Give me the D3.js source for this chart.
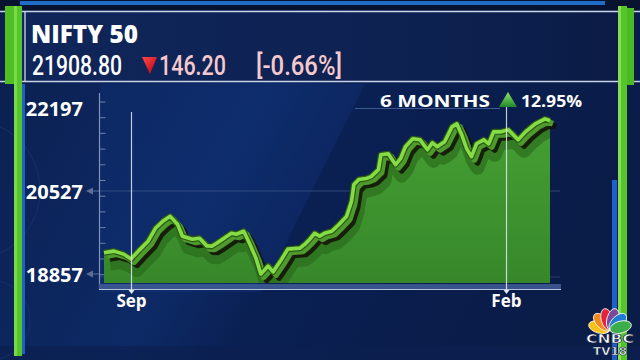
<!DOCTYPE html>
<html>
<head>
<meta charset="utf-8">
<script src="https://cdn.jsdelivr.net/npm/d3@7"></script>
<style>
  html, body { margin: 0; padding: 0; background: #0a1a42; }
  svg { display: block; }
</style>
</head>
<body>
<div id="chart"></div>
<script>
// NIFTY 50, six months of closes
const dates = ['2023-08-21','2023-08-25','2023-08-29','2023-09-01','2023-09-04','2023-09-08','2023-09-11','2023-09-14',
  '2023-09-17','2023-09-20','2023-09-22','2023-09-26','2023-09-29','2023-10-02','2023-10-04','2023-10-06','2023-10-09',
  '2023-10-12','2023-10-14','2023-10-17','2023-10-19','2023-10-22','2023-10-24','2023-10-27','2023-10-29','2023-11-01',
  '2023-11-04','2023-11-09','2023-11-11','2023-11-13','2023-11-15','2023-11-17','2023-11-19','2023-11-22','2023-11-25',
  '2023-11-28','2023-11-30','2023-12-01','2023-12-03','2023-12-06','2023-12-08','2023-12-11','2023-12-12','2023-12-15',
  '2023-12-18','2023-12-20','2023-12-22','2023-12-25','2023-12-28','2023-12-31','2024-01-02','2024-01-04','2024-01-07',
  '2024-01-10','2024-01-12','2024-01-14','2024-01-16','2024-01-18','2024-01-20','2024-01-23','2024-01-25','2024-01-27',
  '2024-01-30','2024-02-02','2024-02-04','2024-02-06','2024-02-09','2024-02-13','2024-02-17','2024-02-19'];
const closes = [19283,19317,19257,19157,19317,19517,19777,19917,
  20017,19857,19617,19557,19577,19420,19417,19477,19577,
  19677,19657,19717,19517,19177,18857,19017,18900,19117,
  19357,19377,19457,19557,19677,19617,19677,19717,19857,
  20017,20317,20657,20757,20777,20817,20957,21257,21277,
  21057,21177,21417,21577,21557,21357,21497,21417,21517,
  21817,21877,21657,21377,21217,21477,21557,21477,21717,
  21717,21757,21657,21557,21717,21877,21977,21940];
const yTicks = [18857, 20527, 22197];
const xTicks = ['2023-09-01', '2024-02-01'];
const xTickLabels = ['Sep', 'Feb'];

const title = 'NIFTY 50';
const last = '21908.80';
const change = '146.20';
const changePct = '[-0.66%]';
const periodLabel = '6 MONTHS';
const periodPct = '12.95%';

const W = 640, H = 360;
const parse = d3.timeParse('%Y-%m-%d');
const data = dates.map((d, i) => ({ date: parse(d), value: closes[i] }));

const svg = d3.select('#chart').append('svg')
  .attr('width', W).attr('height', H)
  .attr('viewBox', `0 0 ${W} ${H}`);

const defs = svg.append('defs');
const bgGrad = defs.append('linearGradient').attr('id', 'bg').attr('x1', 0).attr('y1', 0).attr('x2', 1).attr('y2', 0.3);
bgGrad.append('stop').attr('offset', '0%').attr('stop-color', '#0b1f4e');
bgGrad.append('stop').attr('offset', '45%').attr('stop-color', '#0d2a66');
bgGrad.append('stop').attr('offset', '60%').attr('stop-color', '#0a2053');
bgGrad.append('stop').attr('offset', '100%').attr('stop-color', '#0a1c48');

const hdGrad = defs.append('linearGradient').attr('id', 'hd').attr('x1', 0).attr('y1', 0).attr('x2', 1).attr('y2', 0);
hdGrad.append('stop').attr('offset', '0%').attr('stop-color', '#10265a');
hdGrad.append('stop').attr('offset', '70%').attr('stop-color', '#0d2150');
hdGrad.append('stop').attr('offset', '100%').attr('stop-color', '#0b1b45');

const areaGrad = defs.append('linearGradient').attr('id', 'ag').attr('x1', 0).attr('y1', 0).attr('x2', 0).attr('y2', 1);
areaGrad.append('stop').attr('offset', '0%').attr('stop-color', '#45a033');
areaGrad.append('stop').attr('offset', '100%').attr('stop-color', '#37872a');

const redGrad = defs.append('linearGradient').attr('id', 'rg').attr('x1', 0).attr('y1', 0).attr('x2', 1).attr('y2', 1);
redGrad.append('stop').attr('offset', '0%').attr('stop-color', '#ff4a4a');
redGrad.append('stop').attr('offset', '100%').attr('stop-color', '#b80010');

const grnGrad = defs.append('linearGradient').attr('id', 'gg').attr('x1', 0).attr('y1', 0).attr('x2', 0).attr('y2', 1);
grnGrad.append('stop').attr('offset', '0%').attr('stop-color', '#8fe36a');
grnGrad.append('stop').attr('offset', '100%').attr('stop-color', '#1f8a2a');

// background
svg.append('rect').attr('width', W).attr('height', H).attr('fill', 'url(#bg)');
svg.append('polygon')
  .attr('points', '100,84 365,84 262,292 100,292')
  .attr('fill', '#12357a').attr('opacity', 0.35);
svg.append('rect').attr('x', 0).attr('y', 0).attr('width', W).attr('height', 10).attr('fill', '#07132f');
svg.append('rect').attr('x', 20).attr('y', 1).attr('width', 585).attr('height', 4).attr('fill', '#1f6cc8');
svg.append('rect').attr('x', 0).attr('y', 346).attr('width', W).attr('height', 14).attr('fill', '#0c2050').attr('opacity', 0.7);

// faint circle decoration on the left
[[-30, 190, 70], [-10, 320, 40]].forEach(([cx, cy, r]) => {
  svg.append('circle').attr('cx', cx).attr('cy', cy).attr('r', r)
    .attr('fill', 'none').attr('stroke', '#1b3b7a').attr('stroke-width', 1).attr('opacity', 0.6);
});

// header band
svg.append('rect').attr('x', 22).attr('y', 11).attr('width', 598).attr('height', 70).attr('fill', 'url(#hd)');
svg.append('line').attr('x1', 0).attr('x2', 640).attr('y1', 11.5).attr('y2', 11.5).attr('stroke', '#c9d3e6').attr('stroke-width', 1.5);
svg.append('line').attr('x1', 0).attr('x2', 640).attr('y1', 81.5).attr('y2', 81.5).attr('stroke', '#c9d3e6').attr('stroke-width', 1.5);
svg.append('line').attr('x1', 25).attr('x2', 25).attr('y1', 12).attr('y2', 81).attr('stroke', '#dfe6f2').attr('stroke-width', 1.2);

// side bars
svg.append('rect').attr('x', 5).attr('y', 6).attr('width', 9).attr('height', 78).attr('fill', '#4fbf24');
svg.append('rect').attr('x', 14).attr('y', 6).attr('width', 8).attr('height', 350).attr('fill', '#55c62a');
svg.append('rect').attr('x', 14).attr('y', 6).attr('width', 3).attr('height', 350).attr('fill', '#7ad84c');
svg.append('rect').attr('x', 22).attr('y', 84).attr('width', 3).attr('height', 270).attr('fill', '#1e62c0');
svg.append('rect').attr('x', 618).attr('y', 6).attr('width', 9).attr('height', 354).attr('fill', '#55c62a');
svg.append('rect').attr('x', 618).attr('y', 6).attr('width', 3).attr('height', 354).attr('fill', '#86dc58');
svg.append('rect').attr('x', 627).attr('y', 8).attr('width', 7).attr('height', 77).attr('fill', '#4cb824');
svg.append('rect').attr('x', 612).attr('y', 180).attr('width', 5).attr('height', 180).attr('fill', '#1d63c7');

// header texts
const font = "'Open Sans', 'DejaVu Sans', sans-serif";
const numFont = "Roboto, 'Liberation Sans', sans-serif";
svg.append('text').attr('x', 31).attr('y', 43).attr('fill', '#ffffff')
  .style('font-family', font).style('font-weight', 800).style('font-size', '24px')
  .attr('textLength', 107).attr('lengthAdjust', 'spacingAndGlyphs').text(title);
svg.append('text').attr('x', 32).attr('y', 75).attr('fill', '#ffffff')
  .style('font-family', numFont).style('font-weight', 500).style('font-size', '28px')
  .attr('textLength', 90).attr('lengthAdjust', 'spacingAndGlyphs').text(last);
svg.append('path').attr('d', 'M142,57 L157,57 L150,74 Z').attr('fill', 'url(#rg)');
svg.append('text').attr('x', 159).attr('y', 75).attr('fill', '#f6c9cd')
  .style('font-family', numFont).style('font-weight', 500).style('font-size', '28px')
  .attr('textLength', 67).attr('lengthAdjust', 'spacingAndGlyphs').text(change);
svg.append('text').attr('x', 256).attr('y', 75).attr('fill', '#f6c9cd')
  .style('font-family', numFont).style('font-weight', 500).style('font-size', '28px')
  .attr('textLength', 86).attr('lengthAdjust', 'spacingAndGlyphs').text(changePct);

// scales
const x = d3.scaleTime().domain(d3.extent(data, d => d.date)).range([104, 550]);
const y = d3.scaleLinear().domain([18857, 22197]).range([274, 108]);
const baseY = 283;

// gridlines
[20527].forEach(v => {
  svg.append('line').attr('x1', 99).attr('x2', 560).attr('y1', y(v)).attr('y2', y(v))
    .attr('stroke', '#5f78a8').attr('stroke-width', 1).attr('opacity', 0.45);
});
svg.append('line').attr('x1', 99).attr('x2', 560).attr('y1', 277).attr('y2', 277)
  .attr('stroke', '#5f78a8').attr('stroke-width', 1).attr('opacity', 0.35);

// y axis line + minor ticks
svg.append('line').attr('x1', 99.5).attr('x2', 99.5).attr('y1', 93).attr('y2', 290)
  .attr('stroke', '#8193b8').attr('stroke-width', 1.2);
const minor = d3.range(12).map(i => y.invert(101.5 + i * 15.7));
svg.append('g').attr('transform', 'translate(99.5,0)')
  .call(d3.axisRight(y).tickValues(minor).tickSize(6).tickFormat(''))
  .call(g => g.select('.domain').remove())
  .call(g => g.selectAll('line').attr('stroke', '#6d80a8').attr('stroke-width', 1));

// y labels
svg.append('g').attr('transform', 'translate(83,0)')
  .call(d3.axisLeft(y).tickValues(yTicks).tickSize(0).tickPadding(0).tickFormat(d3.format('d')))
  .call(g => g.select('.domain').remove())
  .call(g => g.selectAll('text')
    .attr('fill', '#ffffff').attr('dy', '0.36em')
    .style('font-family', font).style('font-weight', 700).style('font-size', '20px'));
yTicks.slice(0, 2).forEach(v => {
  svg.append('path').attr('d', `M86,${y(v)} L93,${y(v) - 3.5} L93,${y(v) + 3.5} Z`).attr('fill', '#5c6e96');
  svg.append('line').attr('x1', 93).attr('x2', 99).attr('y1', y(v)).attr('y2', y(v)).attr('stroke', '#5c6e96');
});

// bottom axis bar
svg.append('rect').attr('x', 99).attr('y', 284).attr('width', 462).attr('height', 5).attr('fill', '#3d5a93').attr('opacity', 0.9);
svg.append('line').attr('x1', 99).attr('x2', 561).attr('y1', 289.5).attr('y2', 289.5).attr('stroke', '#b4c2de').attr('stroke-width', 1.2);

// area + 3D ribbon
const area = d3.area().x(d => x(d.date)).y0(baseY).y1(d => y(d.value)).curve(d3.curveLinear);
const line = d3.line().x(d => x(d.date)).y(d => y(d.value)).curve(d3.curveLinear);

svg.append('path').datum(data).attr('d', area).attr('fill', 'url(#ag)');
defs.append('clipPath').attr('id', 'ac').append('path').datum(data).attr('d', area);
const shade = svg.append('g').attr('clip-path', 'url(#ac)');
shade.append('path').datum(data).attr('d', line)
  .attr('transform', 'translate(6,11)')
  .attr('fill', 'none').attr('stroke', '#2a6a1c').attr('stroke-width', 14).attr('opacity', 0.65)
  .attr('stroke-linejoin', 'round');
svg.append('path').datum(data).attr('d', line)
  .attr('transform', 'translate(6,6)')
  .attr('fill', 'none').attr('stroke', '#120f06').attr('stroke-width', 6).attr('opacity', 0.85)
  .attr('stroke-linejoin', 'round');
svg.append('path').datum(data).attr('d', line)
  .attr('transform', 'translate(3,3)')
  .attr('fill', 'none').attr('stroke', '#4e9a2e').attr('stroke-width', 6)
  .attr('stroke-linejoin', 'round');
svg.append('path').datum(data).attr('d', line)
  .attr('fill', 'none').attr('stroke', '#2d5a15').attr('stroke-width', 6)
  .attr('stroke-linejoin', 'round');
svg.append('path').datum(data).attr('d', line)
  .attr('fill', 'none').attr('stroke', '#86dc46').attr('stroke-width', 3.6)
  .attr('stroke-linejoin', 'round');

// month markers
svg.append('g').attr('transform', 'translate(0,290)')
  .call(d3.axisBottom(x).tickValues(xTicks.map(parse)).tickSize(0).tickPadding(5)
    .tickFormat((d, i) => xTickLabels[i]))
  .call(g => g.select('.domain').remove())
  .call(g => g.selectAll('text').attr('fill', '#ffffff')
    .style('font-family', font).style('font-weight', 700).style('font-size', '17px'));
xTicks.map(parse).forEach((d, i) => {
  const xp = Math.round(x(d)) + 0.5;
  svg.append('line').attr('x1', xp).attr('x2', xp).attr('y1', i === 0 ? 112 : 106).attr('y2', 290)
    .attr('stroke', '#e4e9f4').attr('stroke-width', 1.2).attr('opacity', 0.85);
  svg.append('path').attr('d', `M${xp - 3},290 L${xp + 3},290 L${xp},294 Z`).attr('fill', '#e4e9f4');
});

// period change
svg.append('line').attr('x1', 355).attr('x2', 500).attr('y1', 108.5).attr('y2', 108.5)
  .attr('stroke', '#3c5a92').attr('stroke-width', 1);
svg.append('text').attr('x', 380).attr('y', 107).attr('fill', '#ffffff')
  .style('font-family', font).style('font-weight', 700).style('font-size', '16px')
  .attr('textLength', 110).attr('lengthAdjust', 'spacingAndGlyphs').text(periodLabel);
svg.append('path').attr('d', 'M508,92 L517,107 L499,107 Z').attr('fill', 'url(#gg)');
svg.append('text').attr('x', 521).attr('y', 107).attr('fill', '#ffffff')
  .style('font-family', font).style('font-weight', 700).style('font-size', '16px')
  .attr('textLength', 61).attr('lengthAdjust', 'spacingAndGlyphs').text(periodPct);

// CNBC-TV18 logo
const logo = svg.append('g').attr('transform', 'translate(610,330)');
const feathers = ['#f6c21a', '#f28a1c', '#e5243b', '#7a4a9e', '#1f7bd1', '#3cae49'];
feathers.forEach((c, i) => {
  const a = -75 + i * 30;
  logo.append('ellipse').attr('cx', 0).attr('cy', -11).attr('rx', 6).attr('ry', 11)
    .attr('transform', `rotate(${a})`)
    .attr('fill', c).attr('stroke', '#ffffff').attr('stroke-width', 0.8);
});
logo.append('text').attr('x', 0).attr('y', 13).attr('text-anchor', 'middle').attr('fill', '#ffffff')
  .attr('stroke', '#0a1a42').attr('stroke-width', 0.6)
  .style('font-family', "'DejaVu Sans', sans-serif").style('font-weight', 700).style('font-size', '12px')
  .attr('textLength', 48).attr('lengthAdjust', 'spacingAndGlyphs').text('CNBC');
logo.append('text').attr('x', 0).attr('y', 25).attr('text-anchor', 'middle').attr('fill', '#ffffff')
  .attr('stroke', '#0a1a42').attr('stroke-width', 0.6)
  .style('font-family', "'DejaVu Sans', sans-serif").style('font-weight', 700).style('font-size', '11px')
  .attr('textLength', 34).attr('lengthAdjust', 'spacingAndGlyphs').text('TV18');
</script>
</body>
</html>
